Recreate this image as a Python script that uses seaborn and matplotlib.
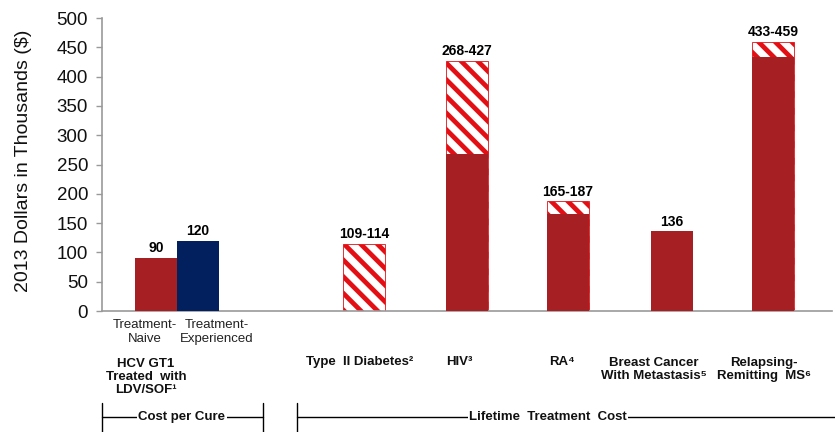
import numpy as np
import pandas as pd
import matplotlib
matplotlib.use("Agg")
import matplotlib.pyplot as plt
from matplotlib.lines import Line2D
import seaborn as sns

# ---------------- data ----------------
categories = ["Treatment-Naive", "Treatment-Experienced", "Type II Diabetes",
              "HIV", "RA", "Breast Cancer With Metastasis", "Relapsing-Remitting MS"]
solid_values = [90, 120, 0, 268, 165, 136, 433]          # solid part of each bar
range_high = [np.nan, np.nan, 114, 427, 187, np.nan, 459]  # upper end of cost range (hatched)
value_labels = ["90", "120", "109-114", "268-427", "165-187", "136", "433-459"]
groups = ["naive", "experienced", "lifetime", "lifetime", "lifetime", "lifetime", "lifetime"]

hcv_sublabels = ["Treatment-\nNaive", "Treatment-\nExperienced"]
hcv_group_label = "HCV GT1\nTreated  with\nLDV/SOF\u00b9"
disease_labels = ["Type  II Diabetes\u00b2", "HIV\u00b3", "RA\u2074",
                  "Breast Cancer\nWith Metastasis\u2075", "Relapsing-\nRemitting  MS\u2076"]
bracket_labels = ["Cost per Cure", "Lifetime  Treatment  Cost"]
y_label = "2013 Dollars in Thousands ($)"
y_ticks = [0, 50, 100, 150, 200, 250, 300, 350, 400, 450, 500]

# ---------------- layout (positions only) ----------------
W, H = 835, 432
x_centers = [156, 198, 364, 467, 568, 672, 773]   # horizontal layout of bars (axis units = px)
ax_left, ax_right, ax_bottom, ax_top = 102, 832, 311, 18

sns.set_style("white")
plt.rcParams["font.family"] = ["Liberation Sans", "DejaVu Sans"]
plt.rcParams["hatch.linewidth"] = 3.4

dark_red = "#a61f23"
navy = "#02205e"
hatch_red = "#e30f14"
palette = {"naive": dark_red, "experienced": navy, "lifetime": dark_red}

df = pd.DataFrame({
    "cat": categories,
    "x": x_centers,
    "solid": solid_values,
    "high": pd.Series(range_high).fillna(0),
    "group": groups,
})

fig = plt.figure(figsize=(W / 100, H / 100), dpi=100)
ax = fig.add_axes([ax_left / W, (H - ax_bottom) / H,
                   (ax_right - ax_left) / W, (ax_bottom - ax_top) / H])

# hatched ranges (drawn first; the solid part covers the lower portion)
sns.barplot(data=df, x="x", y="high", native_scale=True, width=1.0,
            color="white", saturation=1, edgecolor=hatch_red, linewidth=0.6,
            hatch="\\\\", errorbar=None, ax=ax, zorder=2)
# solid bars
sns.barplot(data=df, x="x", y="solid", hue="group", palette=palette, dodge=False,
            native_scale=True, width=1.0, saturation=1, legend=False,
            errorbar=None, ax=ax, zorder=3, linewidth=0)

for p in list(ax.patches):
    if p.get_height() == 0:
        p.remove()

# value labels
for xc, s, h, lab in zip(x_centers, solid_values, range_high, value_labels):
    top = max(s, 0 if np.isnan(h) else h)
    ax.annotate(lab, (xc, top), xytext=(0, 2), textcoords="offset points",
                ha="center", va="bottom", fontsize=10, fontweight="bold",
                color="black")

ax.set_xlim(ax_left, ax_right)
ax.set_ylim(0, 500)
ax.set_yticks(y_ticks)
ax.set_xticks([])
ax.set_xlabel("")
ax.set_ylabel(y_label, fontsize=14, color="#111111")
ax.yaxis.set_label_coords(-0.096, 0.514)
ax.tick_params(axis="y", length=4, width=1, color="#999999", pad=6,
               labelsize=13.5, labelcolor="#111111", left=True)
for side in ["top", "right"]:
    ax.spines[side].set_visible(False)
for side in ["left", "bottom"]:
    ax.spines[side].set_color("#999999")
    ax.spines[side].set_linewidth(1.2)

def ftext(px, py, s, **kw):
    fig.text(px / W, 1 - py / H, s, ha="center", va="center",
             linespacing=1.15, **kw)

# HCV sub-labels
ftext(145, 332, hcv_sublabels[0], fontsize=9.5, color="#222222")
ftext(217, 332, hcv_sublabels[1], fontsize=9.5, color="#222222")
ftext(146, 377, hcv_group_label, fontsize=9.5, fontweight="bold",
      color="#111111")

# disease labels
disease_x = [360, 459, 562, 654, 764]
for dx, lab in zip(disease_x, disease_labels):
    n = lab.count("\n")
    ftext(dx, 362 + n * 7.5, lab, fontsize=9.5, fontweight="bold", color="#111111")

# brackets
def fline(xs, ys):
    fig.add_artist(Line2D([x / W for x in xs], [1 - y / H for y in ys],
                          color="black", linewidth=1.0))

fline([102, 102], [403, 432])
fline([263, 263], [403, 432])
fline([102, 263], [417, 417])
fline([297, 297], [403, 432])
fline([297, 835], [417, 417])
for bx, lab in zip([182, 548], bracket_labels):
    fig.text(bx / W, 1 - 417 / H, lab, ha="center", va="center", fontsize=9.5,
             fontweight="bold", color="#111111",
             bbox=dict(facecolor="white", edgecolor="none", pad=1))

fig.savefig("out.png", dpi=100)
